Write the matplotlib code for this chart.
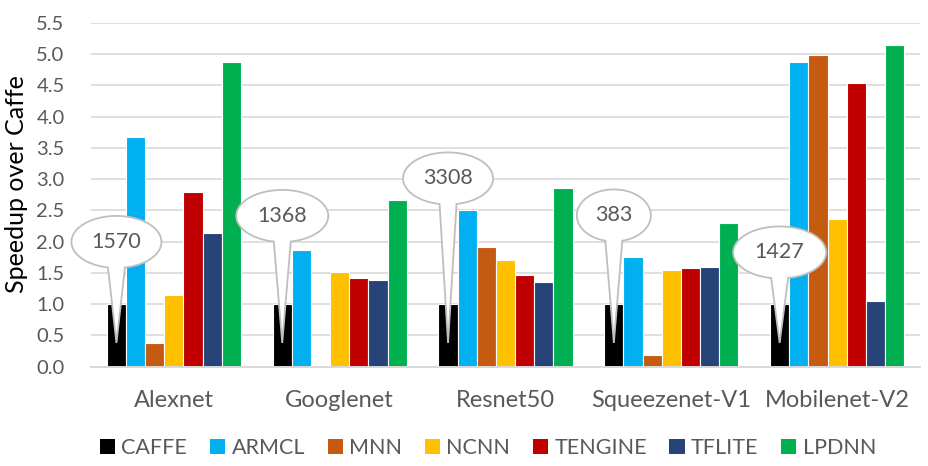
import numpy as np
import matplotlib
matplotlib.use("Agg")
import matplotlib.pyplot as plt
from matplotlib.patches import Patch, PathPatch
from matplotlib.path import Path
from matplotlib.transforms import ScaledTranslation

plt.rcParams['font.family'] = ['Lato', 'DejaVu Sans']

categories = ['Alexnet', 'Googlenet', 'Resnet50', 'Squeezenet-V1', 'Mobilenet-V2']
series_names = ['CAFFE', 'ARMCL', 'MNN', 'NCNN', 'TENGINE', 'TFLITE', 'LPDNN']
caffe   = [1.00, 1.00, 1.00, 1.00, 1.00]
armcl   = [3.67, 1.86, 2.50, 1.76, 4.87]
mnn     = [0.38, np.nan, 1.92, 0.19, 4.98]
ncnn    = [1.15, 1.52, 1.70, 1.54, 2.36]
tengine = [2.80, 1.42, 1.47, 1.58, 4.53]
tflite  = [2.13, 1.38, 1.35, 1.60, 1.05]
lpdnn   = [4.87, 2.66, 2.86, 2.29, 5.15]
series_values = [caffe, armcl, mnn, ncnn, tengine, tflite, lpdnn]
colors = ['#000000', '#00B0F0', '#C55A11', '#FFC000', '#C00000', '#264478', '#00B050']

callout_labels = ['1570', '1368', '3308', '383', '1427']
callout_tip_value = 0.38

W, H = 929, 466
fig = plt.figure(figsize=(W / 100, H / 100), dpi=100)
ax = fig.add_axes([91 / W, (H - 366.7) / H, (920 - 91) / W, (366.7 - 22.7) / H])

bw = 0.1155
x = np.arange(len(categories))
for j, (name, vals, c) in enumerate(zip(series_names, series_values, colors)):
    ax.bar(x + (j - 3) * bw, vals, width=bw, color=c, edgecolor='white',
           linewidth=0.8, label=name, zorder=2)

ax.set_xlim(-0.5, len(categories) - 0.5)
ax.set_ylim(0, 5.5)
ax.set_yticks(np.arange(0, 5.51, 0.5))
ax.set_yticklabels([f'{v:.1f}' for v in np.arange(0, 5.51, 0.5)])
ax.set_xticks(x)
ax.set_xticklabels(categories)
ax.grid(axis='y', color='#D9D9D9', linewidth=1.2, zorder=0)
ax.set_axisbelow(True)
for s in ['top', 'right', 'left']:
    ax.spines[s].set_visible(False)
ax.spines['bottom'].set_color('#D9D9D9')
ax.spines['bottom'].set_linewidth(1.4)
ax.tick_params(axis='y', length=0, pad=19, labelsize=14.5, labelcolor='#595959')
ax.tick_params(axis='x', length=0, pad=17, labelsize=17, labelcolor='#595959')

fig.text(17 / W, (H - 184) / H, 'Speedup over Caffe', rotation=90,
         ha='center', va='center', fontsize=18, color='black')

# callouts
ell_up = [101, 127, 164.5, 127.5, 90.5]
ell_w = [90, 92, 90, 74, 93]
ell_h = 52
for i, lab in enumerate(callout_labels):
    cx = x[i] - 3 * bw
    tr = fig.dpi_scale_trans + ScaledTranslation(cx, callout_tip_value, ax.transData)
    a = ell_w[i] / 2 / 100
    b = ell_h / 2 / 100
    cy = ell_up[i] / 100
    hw = 8.5 / 100
    d = np.arcsin(hw / a)
    start = -np.pi / 2 + d
    end = 3 * np.pi / 2 - d
    th = np.linspace(start, end, 200)
    pts = [(a * np.cos(t), cy + b * np.sin(t)) for t in th]
    pts.append((0, 0))
    pts.append(pts[0])
    codes = [Path.MOVETO] + [Path.LINETO] * (len(pts) - 2) + [Path.CLOSEPOLY]
    p = PathPatch(Path(pts, codes), facecolor='white', edgecolor='#BFBFBF',
                  linewidth=1.3, transform=tr, zorder=5, clip_on=False)
    ax.add_patch(p)
    ax.text(0, cy, lab, transform=tr, ha='center', va='center',
            fontsize=15.5, color='#595959', zorder=6)

handles = [Patch(facecolor=c, edgecolor='none') for c in colors]
fig.legend(handles, series_names, loc='center', bbox_to_anchor=(488 / W, (H - 448) / H),
           ncol=7, frameon=False, fontsize=15.5, handlelength=0.7, handleheight=0.7,
           handletextpad=0.3, columnspacing=1.05, labelcolor='#595959', borderaxespad=0)

fig.savefig('out.png', dpi=100)
